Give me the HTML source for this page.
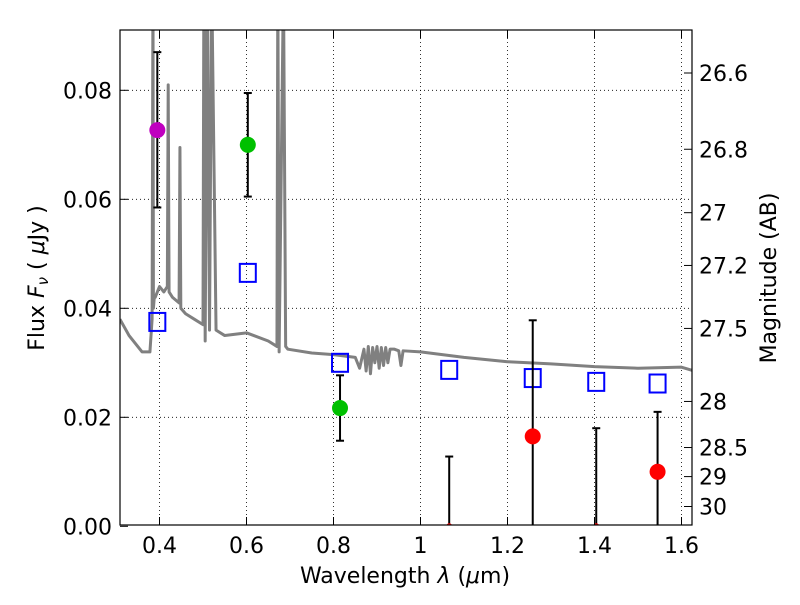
<!DOCTYPE html>
<html><head><meta charset="utf-8"><style>
body{margin:0;background:#fff;}
svg text{font-family:"DejaVu Sans","Liberation Sans",sans-serif;fill:#000;}
</style></head><body>
<svg id="chart" width="800" height="600" viewBox="0 0 800 600" xmlns="http://www.w3.org/2000/svg">
<rect width="800" height="600" fill="#fff"/>
<g id="grid"></g>
<g id="spec"></g>
<g id="marks"></g>
<rect x="120" y="30" width="572" height="495" fill="none" stroke="#000" stroke-width="1.2"/>
<g id="axes"></g>
<text x="405" y="583" font-size="22" text-anchor="middle">Wavelength  <tspan font-style="italic">λ</tspan> (<tspan font-style="italic">μ</tspan>m)</text>
<text transform="translate(44,278) rotate(-90)" font-size="22" text-anchor="middle">Flux  <tspan font-style="italic">F<tspan font-size="15" dy="4">ν</tspan></tspan><tspan dy="-4">  ( </tspan><tspan font-style="italic">μ</tspan>Jy )</text>
<text transform="translate(776,278) rotate(-90)" font-size="22" text-anchor="middle">Magnitude (AB)</text>
</svg>
<script>
const xTicks=[0.4,0.6,0.8,1.0,1.2,1.4,1.6];
const xTickLabels=["0.4","0.6","0.8","1","1.2","1.4","1.6"];
const yTicks=[0,0.02,0.04,0.06,0.08];
const yTickLabels=["0.00","0.02","0.04","0.06","0.08"];
const magTicks=[26.6,26.8,27,27.2,27.5,28,28.5,29,30];
const magTickLabels=["26.6","26.8","27","27.2","27.5","28","28.5","29","30"];
const ptWave=[0.395,0.603,0.815,1.066,1.258,1.404,1.545];
const ptFlux=[0.0727,0.070,0.0217,0,0.0165,0,0.010];
const ptErrLo=[0.0585,0.0605,0.0157,0,0,0,0];
const ptErrHi=[0.087,0.0795,0.0277,0.0128,0.0378,0.018,0.021];
const ptColor=["#bf00bf","#00c000","#00c000","red","red","red","red"];
const modelFlux=[0.0375,0.0465,0.0300,0.0287,0.0272,0.0265,0.0262];
const specWave=[0.309,0.33,0.36,0.378,0.383,0.385,0.386,0.388,0.39,0.40,0.41,0.418,0.42,0.422,0.43,0.445,0.447,0.449,0.46,0.48,0.50,0.502,0.505,0.51,0.515,0.52,0.53,0.55,0.6,0.65,0.67,0.672,0.675,0.685,0.69,0.695,0.75,0.8,0.85,0.86,0.87,0.875,0.88,0.885,0.89,0.895,0.9,0.905,0.91,0.915,0.92,0.925,0.93,0.94,0.95,0.955,0.96,1.0,1.1,1.2,1.3,1.4,1.5,1.6,1.629];
const specFlux=[0.038,0.035,0.032,0.032,0.038,0.1,0.04,0.042,0.042,0.044,0.043,0.044,0.081,0.043,0.042,0.041,0.0695,0.040,0.039,0.038,0.037,0.1,0.034,0.1,0.036,0.1,0.036,0.035,0.0355,0.034,0.033,0.1,0.032,0.1,0.033,0.0325,0.0318,0.0315,0.031,0.029,0.0325,0.0285,0.033,0.028,0.0328,0.030,0.033,0.029,0.0328,0.0295,0.0328,0.030,0.0325,0.0325,0.0322,0.0295,0.0322,0.032,0.031,0.0302,0.0298,0.0293,0.029,0.0292,0.0285];
const X=w=>159.5+(w-0.4)*435;
const Y=f=>526.3-f*5450;
const NS="http://www.w3.org/2000/svg";
function mk(tag,attrs,parent){const e=document.createElementNS(NS,tag);for(const k in attrs)e.setAttribute(k,attrs[k]);parent.appendChild(e);return e;}
const grid=document.getElementById('grid'),axes=document.getElementById('axes'),spec=document.getElementById('spec'),marks=document.getElementById('marks');
xTicks.forEach((t,i)=>{const x=X(t);
 const g=mk('line',{x1:x,x2:x,y1:30,y2:525,stroke:'#000','stroke-width':0.8,'stroke-dasharray':'1,3'},grid);
 
 mk('line',{x1:x,x2:x,y1:525,y2:517,stroke:'#000'},axes);mk('line',{x1:x,x2:x,y1:30,y2:38,stroke:'#000'},axes);
 const tx=mk('text',{x:x,y:553,'font-size':22,'text-anchor':'middle'},axes);tx.textContent=xTickLabels[i];
 });
yTicks.forEach((t,i)=>{const y=Y(t);
 if(t>0){const g=mk('line',{x1:120,x2:692,y1:y,y2:y,stroke:'#000','stroke-width':0.8,'stroke-dasharray':'1,3'},grid);
 }
 mk('line',{x1:120,x2:128,y1:y,y2:y,stroke:'#000'},axes);
 const tx=mk('text',{x:112,y:y+8,'font-size':22,'text-anchor':'end'},axes);tx.textContent=yTickLabels[i];
 });
magTicks.forEach((m,i)=>{const f=Math.pow(10,(23.9-m)/2.5);const y=Y(f);
 mk('line',{x1:684,x2:692,y1:y,y2:y,stroke:'#000'},axes);
 const tx=mk('text',{x:699,y:y+8,'font-size':22},axes);tx.textContent=magTickLabels[i];
 });
const clip=mk('clipPath',{id:'pc'},document.getElementById('chart'));mk('rect',{x:120,y:30,width:572,height:495},clip);
spec.setAttribute('clip-path','url(#pc)');marks.setAttribute('clip-path','url(#pc)');
const sp=mk('polyline',{points:specWave.map((w,i)=>X(w)+','+Y(specFlux[i])).join(' '),fill:'none',stroke:'#808080','stroke-width':3,'stroke-linejoin':'round'},spec);

modelFlux.forEach((f,i)=>{const r=mk('rect',{x:X(ptWave[i])-8,y:Y(f)-9,width:16,height:18,fill:'none',stroke:'#0000ff','stroke-width':2},marks);
 });
ptWave.forEach((w,i)=>{const x=X(w);
 const e=mk('line',{x1:x,x2:x,y1:Y(ptErrLo[i]),y2:Y(ptErrHi[i]),stroke:'#000','stroke-width':2},marks);
 
 mk('line',{x1:x-4,x2:x+4,y1:Y(ptErrHi[i]),y2:Y(ptErrHi[i]),stroke:'#000','stroke-width':2},marks);
 if(ptErrLo[i]>0)mk('line',{x1:x-4,x2:x+4,y1:Y(ptErrLo[i]),y2:Y(ptErrLo[i]),stroke:'#000','stroke-width':2},marks);
 const r=ptFlux[i]>0?8:3;
 const c=mk('circle',{cx:x,cy:Y(ptFlux[i]),r:r,fill:ptColor[i]},marks);
 });
</script>
</body></html>
